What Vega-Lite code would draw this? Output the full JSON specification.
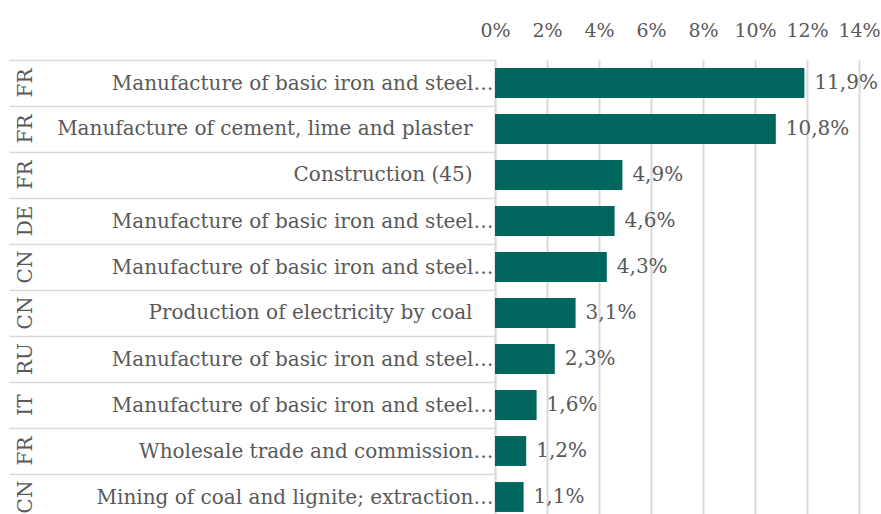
{
  "$schema": "https://vega.github.io/schema/vega-lite/v6.json",
  "width": 364,
  "height": 460,
  "padding": {"left": 8, "top": 21, "right": 5, "bottom": 0},
  "autosize": {"type": "pad"},
  "config": {
    "locale": {"number": {"decimal": ",", "thousands": ".", "grouping": [3], "currency": ["", " €"]}},
    "view": {"stroke": null},
    "font": "DejaVu Serif"
  },
  "data": {
    "values": [
      {"label": "FR|Manufacture of basic iron and steel…", "share": 0.119},
      {"label": "FR|Manufacture of cement, lime and plaster|full", "share": 0.108},
      {"label": "FR|Construction (45)|full", "share": 0.049},
      {"label": "DE|Manufacture of basic iron and steel…", "share": 0.046},
      {"label": "CN|Manufacture of basic iron and steel…", "share": 0.043},
      {"label": "CN|Production of electricity by coal|full", "share": 0.031},
      {"label": "RU|Manufacture of basic iron and steel…", "share": 0.023},
      {"label": "IT|Manufacture of basic iron and steel…", "share": 0.016},
      {"label": "FR|Wholesale trade and commission…", "share": 0.012},
      {"label": "CN|Mining of coal and lignite; extraction…", "share": 0.011}
    ]
  },
  "layer": [
    {
      "mark": {"type": "bar", "color": "#00665E", "height": {"band": 0.65}},
      "encoding": {
        "x": {
          "field": "share", "type": "quantitative",
          "scale": {"domain": [0, 0.14], "nice": false},
          "axis": {
            "orient": "top", "title": null, "format": ".0%", "values": [0, 0.02, 0.04, 0.06, 0.08, 0.1, 0.12, 0.14],
            "domain": false, "ticks": false, "labelPadding": 20, "labelOverlap": false, "labelAlign": "center",
            "labelFontSize": 19, "labelColor": "#595959", "labelFont": "DejaVu Serif",
            "grid": true, "gridColor": "#d9d9d9", "gridWidth": 2
          }
        },
        "y": {
          "field": "label", "type": "nominal", "sort": null,
          "scale": {"paddingInner": 0, "paddingOuter": 0},
          "axis": {
            "orient": "left", "title": null,
            "domain": true, "domainColor": "#d9d9d9", "domainWidth": 1.5,
            "ticks": true, "tickBand": "extent", "tickSize": 486, "tickColor": "#d9d9d9", "tickWidth": 1.5,
            "labelExpr": "length(split(datum.value, '|')) > 2 ? '' : split(datum.value, '|')[1]",
            "labelPadding": -484, "labelAlign": "right", "labelBaseline": "middle",
            "labelFontSize": 20, "labelColor": "#595959", "labelFont": "DejaVu Serif", "labelLimit": 0
          }
        }
      }
    },
    {
      "mark": {"type": "text", "align": "left", "baseline": "middle", "dx": 10, "fontSize": 20, "color": "#595959", "font": "DejaVu Serif"},
      "encoding": {
        "x": {"field": "share", "type": "quantitative"},
        "y": {
          "field": "label", "type": "nominal", "sort": null,
          "axis": {
            "orient": "left", "title": null, "domain": false, "ticks": false, "grid": false,
            "labelExpr": "split(datum.value, '|')[0]",
            "labelAngle": -90, "labelAlign": "center", "labelBaseline": "middle",
            "labelPadding": 470, "labelFontSize": 20, "labelColor": "#595959", "labelFont": "DejaVu Serif"
          }
        },
        "text": {"field": "share", "type": "quantitative", "format": ".1%"}
      }
    },
    {
      "mark": {"type": "text", "text": ""},
      "encoding": {
        "y": {
          "field": "label", "type": "nominal", "sort": null,
          "axis": {
            "orient": "left", "title": null, "domain": false, "ticks": false, "grid": false,
            "labelExpr": "length(split(datum.value, '|')) > 2 ? split(datum.value, '|')[1] : ''",
            "labelPadding": 23, "labelAlign": "right", "labelBaseline": "middle",
            "labelFontSize": 20, "labelColor": "#595959", "labelFont": "DejaVu Serif", "labelLimit": 0
          }
        }
      }
    }
  ],
  "resolve": {"axis": {"y": "independent"}}
}
